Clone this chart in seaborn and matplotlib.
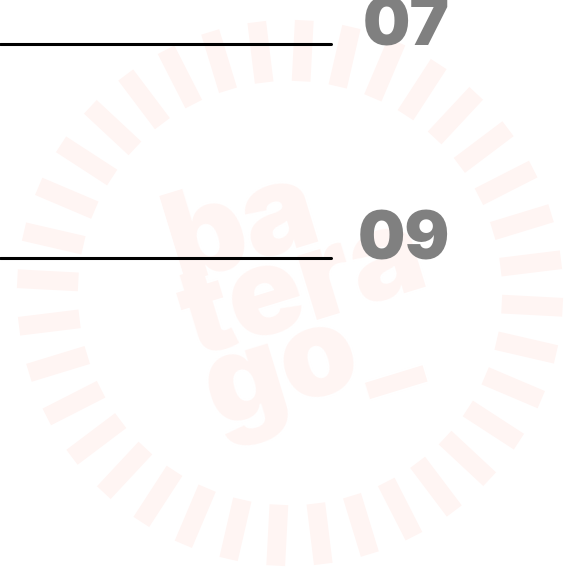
import numpy as np
import pandas as pd
import matplotlib
matplotlib.use("Agg")
import matplotlib.pyplot as plt
import seaborn as sns

# ---- data ----
labels = ["07", "09"]
row_y = [44, 258]          # vertical position of each row (px)
line_end = [331, 331]      # rule length (px)
watermark_lines = ["ba", "tera", "go_"]

sns.set_theme(style="white")
plt.rcParams["font.family"] = ["Inter", "DejaVu Sans"]

W, H = 565, 568
fig = plt.figure(figsize=(W / 100, H / 100), dpi=100)
ax = fig.add_axes([0, 0, 1, 1])

pink = "#fff5f3"

# radial dash ring
cx, cy = 290, 293
r_in, r_out = 212, 273
angles = np.deg2rad(87 + 10 * np.arange(36))
for a in angles:
    xs = [cx + r_in * np.cos(a), cx + r_out * np.cos(a)]
    ys = [cy - r_in * np.sin(a), cy - r_out * np.sin(a)]
    ax.plot(xs, ys, color=pink, lw=13.5, solid_capstyle="butt", zorder=1)

# watermark text
wm_pos = [(180, 282), (194, 357), (216, 427)]
for txt, (x, y) in zip(watermark_lines, wm_pos):
    ax.text(x, y, txt, fontsize=88, fontweight=900, color=pink,
            rotation=17, rotation_mode="anchor", ha="left", va="baseline",
            zorder=1)

# rules via seaborn
df = pd.DataFrame({
    "x": [v for e in line_end for v in (0, e)],
    "y": [v for y in row_y for v in (y, y)],
    "label": [l for l in labels for _ in (0, 1)],
})
sns.lineplot(data=df, x="x", y="y", units="label", estimator=None,
             color="black", lw=2.2, ax=ax, zorder=3)

# big numbers
for lab, y in zip(labels, row_y):
    ax.text(450, y + 1.5, lab, fontsize=48, fontweight=900, color="#808080",
            ha="right", va="baseline", zorder=4)

ax.set_xlim(0, W)
ax.set_ylim(H, 0)
ax.axis("off")
fig.savefig("out.png", dpi=100)
